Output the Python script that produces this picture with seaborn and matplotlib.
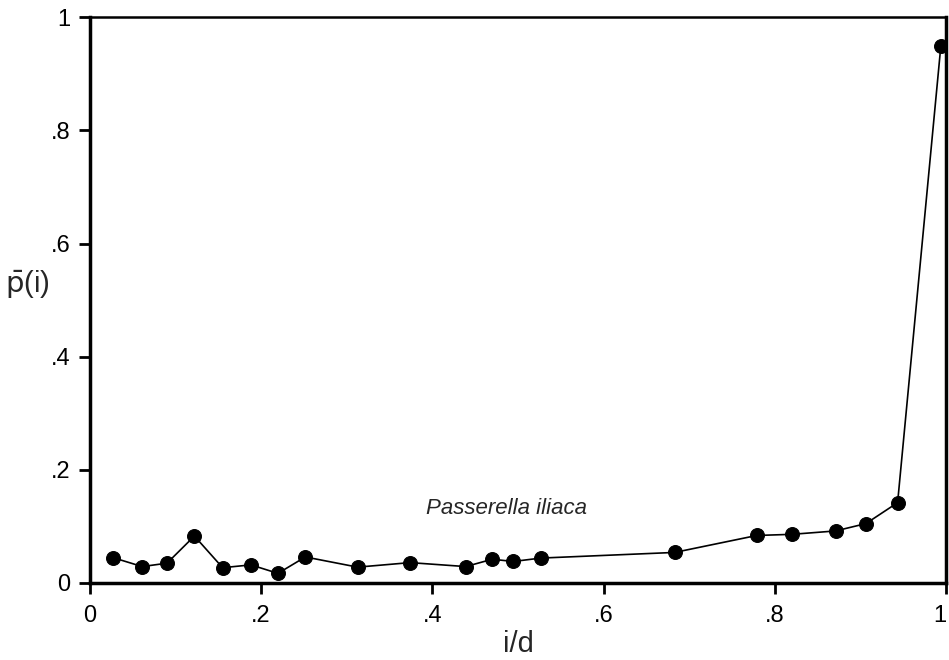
import matplotlib
matplotlib.use("Agg")
import matplotlib.pyplot as plt
import seaborn as sns
import pandas as pd

x_vals = [0.0265, 0.061, 0.090, 0.122, 0.155, 0.188, 0.2196, 0.2516, 0.3127, 0.374,
          0.439, 0.470, 0.4945, 0.5265, 0.683, 0.779, 0.820, 0.871, 0.9065, 0.9435, 0.994]
y_vals = [0.045, 0.029, 0.035, 0.083, 0.027, 0.032, 0.017, 0.046, 0.028, 0.036,
          0.029, 0.042, 0.038, 0.044, 0.054, 0.084, 0.086, 0.092, 0.105, 0.142, 0.949]
x_ticks = [0, 0.2, 0.4, 0.6, 0.8, 1.0]
x_ticklabels = ["0", ".2", ".4", ".6", ".8", "1"]
y_ticks = [0, 0.2, 0.4, 0.6, 0.8, 1.0]
y_ticklabels = ["0", ".2", ".4", ".6", ".8", "1"]
species = "Passerella iliaca"

df = pd.DataFrame({"x": x_vals, "y": y_vals})

sns.set_style("white")
plt.rcParams['font.family'] = ['Liberation Sans', 'DejaVu Sans']

fig = plt.figure(figsize=(9.49, 6.6), dpi=100)
ax = fig.add_axes([0.0948, 0.1167, 0.902, 0.857])

sns.lineplot(data=df, x="x", y="y", ax=ax, color="black", linewidth=1.2,
             marker="o", markersize=10, markeredgecolor="black", markerfacecolor="black",
             sort=False)

ax.set_xlim(0, 1)
ax.set_ylim(0, 1)
ax.set_xticks(x_ticks)
ax.set_xticklabels(x_ticklabels)
ax.set_yticks(y_ticks)
ax.set_yticklabels(y_ticklabels)
ax.tick_params(axis="both", direction="out", length=8, width=2, labelsize=17, colors="black")
ax.tick_params(axis="x", pad=8)
ax.tick_params(axis="y", pad=6)
ax.xaxis.set_ticks_position("bottom")
ax.yaxis.set_ticks_position("left")
ax.get_xticklabels()[-1].set_horizontalalignment("right")
for s in ax.spines.values():
    s.set_color("black")
ax.spines["left"].set_linewidth(2.5)
ax.spines["bottom"].set_linewidth(2.5)
ax.spines["right"].set_linewidth(2.5)
ax.spines["top"].set_linewidth(1.8)

ax.set_xlabel("i/d", fontsize=21, labelpad=2)
ax.set_ylabel(r"$\bar{\mathrm{p}}$(i)", fontsize=21, rotation=0, labelpad=10)
ax.yaxis.set_label_coords(-0.073, 0.5)

ax.text(0.487, 0.132, species, fontsize=16, style="italic", ha="center", va="center")

fig.savefig("out.png", dpi=100)
